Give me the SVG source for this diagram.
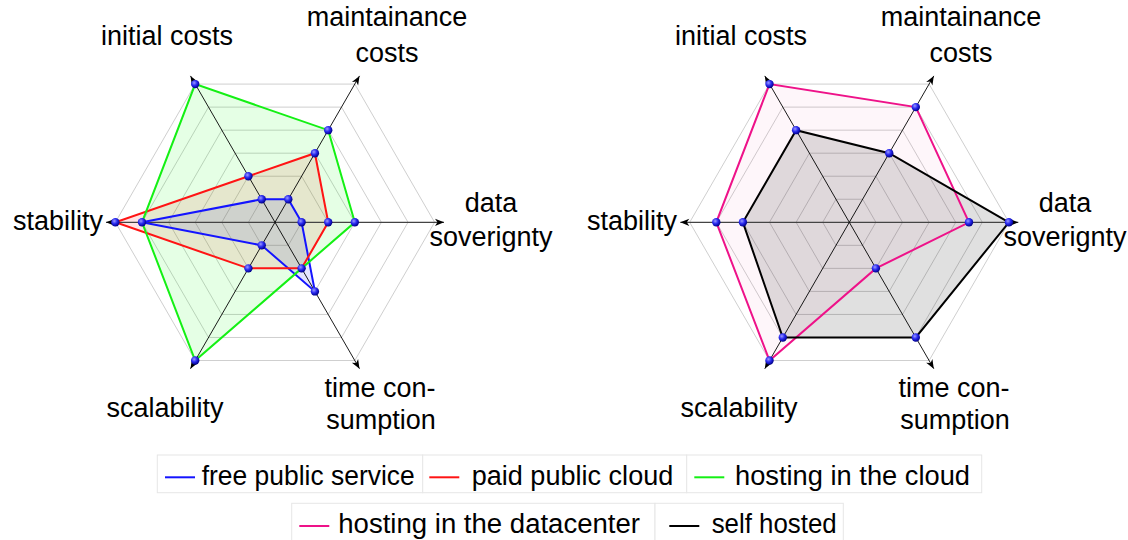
<svg xmlns="http://www.w3.org/2000/svg" xmlns:xlink="http://www.w3.org/1999/xlink" width="1128" height="540" viewBox="0 0 1128 540">
<style>
text{font-family:"Liberation Sans",Arial,sans-serif;font-size:27px;fill:#000}
.m{text-anchor:middle}
.e{text-anchor:end}
.grid polygon{fill:none;stroke:#cfcfcf;stroke-width:1}
.ax{stroke:#000;stroke-width:0.9;fill:none;marker-end:url(#arr)}
.axh{stroke:#444;stroke-width:1.3}
.s{fill-rule:nonzero;stroke-width:2;stroke-linejoin:miter}
.cell{fill:#fff;stroke:#e6e6e6;stroke-width:1}
.lg{stroke-width:2}
</style>
<defs>
<marker id="arr" markerUnits="userSpaceOnUse" markerWidth="12" markerHeight="10" viewBox="-10 -5 12 10" refX="0" refY="0" orient="auto">
<path d="M0,0 L-9,-3.6 L-6.5,0 L-9,3.6 Z" fill="#000"/>
</marker>
<radialGradient id="ball" cx="0.38" cy="0.35" r="0.65">
<stop offset="0" stop-color="#9a9aff"/>
<stop offset="0.5" stop-color="#2a2af0"/>
<stop offset="1" stop-color="#00008a"/>
</radialGradient>
<circle id="pt" r="4.2" fill="url(#ball)"/>
<g id="gridhex" class="grid">
<polygon points="26.6,0 13.3,-23.04 -13.3,-23.04 -26.6,0 -13.3,23.04 13.3,23.04"/>
<polygon points="53.2,0 26.6,-46.07 -26.6,-46.07 -53.2,0 -26.6,46.07 26.6,46.07"/>
<polygon points="79.8,0 39.9,-69.11 -39.9,-69.11 -79.8,0 -39.9,69.11 39.9,69.11"/>
<polygon points="106.4,0 53.2,-92.14 -53.2,-92.14 -106.4,0 -53.2,92.14 53.2,92.14"/>
<polygon points="133,0 66.5,-115.18 -66.5,-115.18 -133,0 -66.5,115.18 66.5,115.18"/>
<polygon points="159.6,0 79.8,-138.21 -79.8,-138.21 -159.6,0 -79.8,138.21 79.8,138.21"/>
</g>
<g id="axes">
<line class="ax axh" x1="0" y1="0" x2="169" y2="0"/>
<line class="ax" x1="0" y1="0" x2="84.5" y2="-146.4"/>
<line class="ax" x1="0" y1="0" x2="-84.5" y2="-146.4"/>
<line class="ax axh" x1="0" y1="0" x2="-169" y2="0"/>
<line class="ax" x1="0" y1="0" x2="-84.5" y2="146.4"/>
<line class="ax" x1="0" y1="0" x2="84.5" y2="146.4"/>
</g>
</defs>

<g id="chart-left" transform="translate(275,222.3)">
<use xlink:href="#gridhex"/>
<g id="series-blue">
<polygon class="s" fill="#0000ff" fill-opacity="0.1" stroke="none" points="26.6,0 13.3,-23.04 -13.3,-23.04 -133,0 -13.3,23.04 39.9,69.11"/>
</g>
<g id="series-red">
<polygon class="s" fill="#ff0000" fill-opacity="0.1" stroke="none" points="53.2,0 39.9,-69.11 -26.6,-46.07 -159.6,0 -26.6,46.07 26.6,46.07"/>
</g>
<g id="series-green">
<polygon class="s" fill="#00ff00" fill-opacity="0.1" stroke="none" points="79.8,0 53.2,-92.14 -79.8,-138.21 -133,0 -79.8,138.21 26.6,46.07"/>
</g>
<g id="connectors-left">
<use xlink:href="#axes"/>
</g>
<polygon class="s" fill="none" stroke="#1414ff" points="26.6,0 13.3,-23.04 -13.3,-23.04 -133,0 -13.3,23.04 39.9,69.11"/>
<polygon class="s" fill="none" stroke="#ff1414" points="53.2,0 39.9,-69.11 -26.6,-46.07 -159.6,0 -26.6,46.07 26.6,46.07"/>
<polygon class="s" fill="none" stroke="#14f014" points="79.8,0 53.2,-92.14 -79.8,-138.21 -133,0 -79.8,138.21 26.6,46.07"/>
<g id="points-left">
<use xlink:href="#pt" x="26.6" y="0"/><use xlink:href="#pt" x="13.3" y="-23.04"/><use xlink:href="#pt" x="-13.3" y="-23.04"/><use xlink:href="#pt" x="-133" y="0"/><use xlink:href="#pt" x="-13.3" y="23.04"/><use xlink:href="#pt" x="39.9" y="69.11"/>
<use xlink:href="#pt" x="53.2" y="0"/><use xlink:href="#pt" x="39.9" y="-69.11"/><use xlink:href="#pt" x="-26.6" y="-46.07"/><use xlink:href="#pt" x="-159.6" y="0"/><use xlink:href="#pt" x="-26.6" y="46.07"/><use xlink:href="#pt" x="26.6" y="46.07"/>
<use xlink:href="#pt" x="79.8" y="0"/><use xlink:href="#pt" x="53.2" y="-92.14"/><use xlink:href="#pt" x="-79.8" y="-138.21"/><use xlink:href="#pt" x="-79.8" y="138.21"/>
</g>
</g>

<g id="labels-left">
<text class="m" x="167" y="45">initial costs</text>
<text class="m" x="387" y="26">maintainance</text>
<text class="m" x="387" y="62">costs</text>
<text class="m" x="491" y="212">data</text>
<text class="m" x="491" y="245.5">soverignty</text>
<text class="e" x="103" y="229.5">stability</text>
<text class="m" x="165" y="416.7">scalability</text>
<text class="m" x="380" y="396.7">time con-</text>
<text class="m" x="381" y="429.3">sumption</text>
</g>

<g id="chart-right" transform="translate(849.3,222.3)">
<use xlink:href="#gridhex"/>
<g id="series-pink">
<polygon class="s" fill="#ee1289" fill-opacity="0.04" stroke="none" points="119.7,0 66.5,-115.18 -79.8,-138.21 -133,0 -79.8,138.21 26.6,46.07"/>
</g>
<g id="series-black">
<polygon class="s" fill="#000" fill-opacity="0.12" stroke="none" points="159.6,0 39.9,-69.11 -53.2,-92.14 -106.4,0 -66.5,115.18 66.5,115.18"/>
</g>
<g id="connectors-right">
<use xlink:href="#axes"/>
</g>
<polygon class="s" fill="none" stroke="#ee1289" points="119.7,0 66.5,-115.18 -79.8,-138.21 -133,0 -79.8,138.21 26.6,46.07"/>
<polygon class="s" fill="none" stroke="#000" stroke-width="2.2" points="159.6,0 39.9,-69.11 -53.2,-92.14 -106.4,0 -66.5,115.18 66.5,115.18"/>
<g id="points-right">
<use xlink:href="#pt" x="119.7" y="0"/><use xlink:href="#pt" x="66.5" y="-115.18"/><use xlink:href="#pt" x="-79.8" y="-138.21"/><use xlink:href="#pt" x="-133" y="0"/><use xlink:href="#pt" x="-79.8" y="138.21"/><use xlink:href="#pt" x="26.6" y="46.07"/>
<use xlink:href="#pt" x="159.6" y="0"/><use xlink:href="#pt" x="39.9" y="-69.11"/><use xlink:href="#pt" x="-53.2" y="-92.14"/><use xlink:href="#pt" x="-106.4" y="0"/><use xlink:href="#pt" x="-66.5" y="115.18"/><use xlink:href="#pt" x="66.5" y="115.18"/>
</g>
</g>

<g id="labels-right">
<text class="m" x="741" y="45">initial costs</text>
<text class="m" x="961" y="26">maintainance</text>
<text class="m" x="961" y="62">costs</text>
<text class="m" x="1065" y="212">data</text>
<text class="m" x="1065" y="245.5">soverignty</text>
<text class="e" x="677" y="229.5">stability</text>
<text class="m" x="739" y="416.7">scalability</text>
<text class="m" x="954" y="396.7">time con-</text>
<text class="m" x="955" y="429.3">sumption</text>
</g>

<g id="legend">
<g id="legend-blue"><rect class="cell" x="157.3" y="455" width="265.4" height="37.7"/><line class="lg" stroke="#1414ff" x1="165" y1="477.3" x2="195" y2="477.3"/><text x="201.7" y="485" textLength="213" lengthAdjust="spacingAndGlyphs">free public service</text></g>
<g id="legend-red"><rect class="cell" x="422.7" y="455" width="264" height="37.7"/><line class="lg" stroke="#ff1414" x1="429.3" y1="477.3" x2="459.3" y2="477.3"/><text x="471.7" y="485" textLength="201.6" lengthAdjust="spacingAndGlyphs">paid public cloud</text></g>
<g id="legend-green"><rect class="cell" x="686.7" y="455" width="295" height="37.7"/><line class="lg" stroke="#14f014" x1="694.3" y1="477.3" x2="724.3" y2="477.3"/><text x="735" y="485" textLength="235" lengthAdjust="spacingAndGlyphs">hosting in the cloud</text></g>
<g id="legend-pink"><rect class="cell" x="291.7" y="503.3" width="363.3" height="40"/><line class="lg" stroke="#ee1289" x1="299.3" y1="526" x2="329.3" y2="526"/><text x="338.3" y="533.3" textLength="301.7" lengthAdjust="spacingAndGlyphs">hosting in the datacenter</text></g>
<g id="legend-black"><rect class="cell" x="655" y="503.3" width="188.3" height="40"/><line class="lg" stroke="#000" x1="669.3" y1="526" x2="699.3" y2="526"/><text x="711.7" y="533.3" textLength="125" lengthAdjust="spacingAndGlyphs">self hosted</text></g>
</g>
</svg>
